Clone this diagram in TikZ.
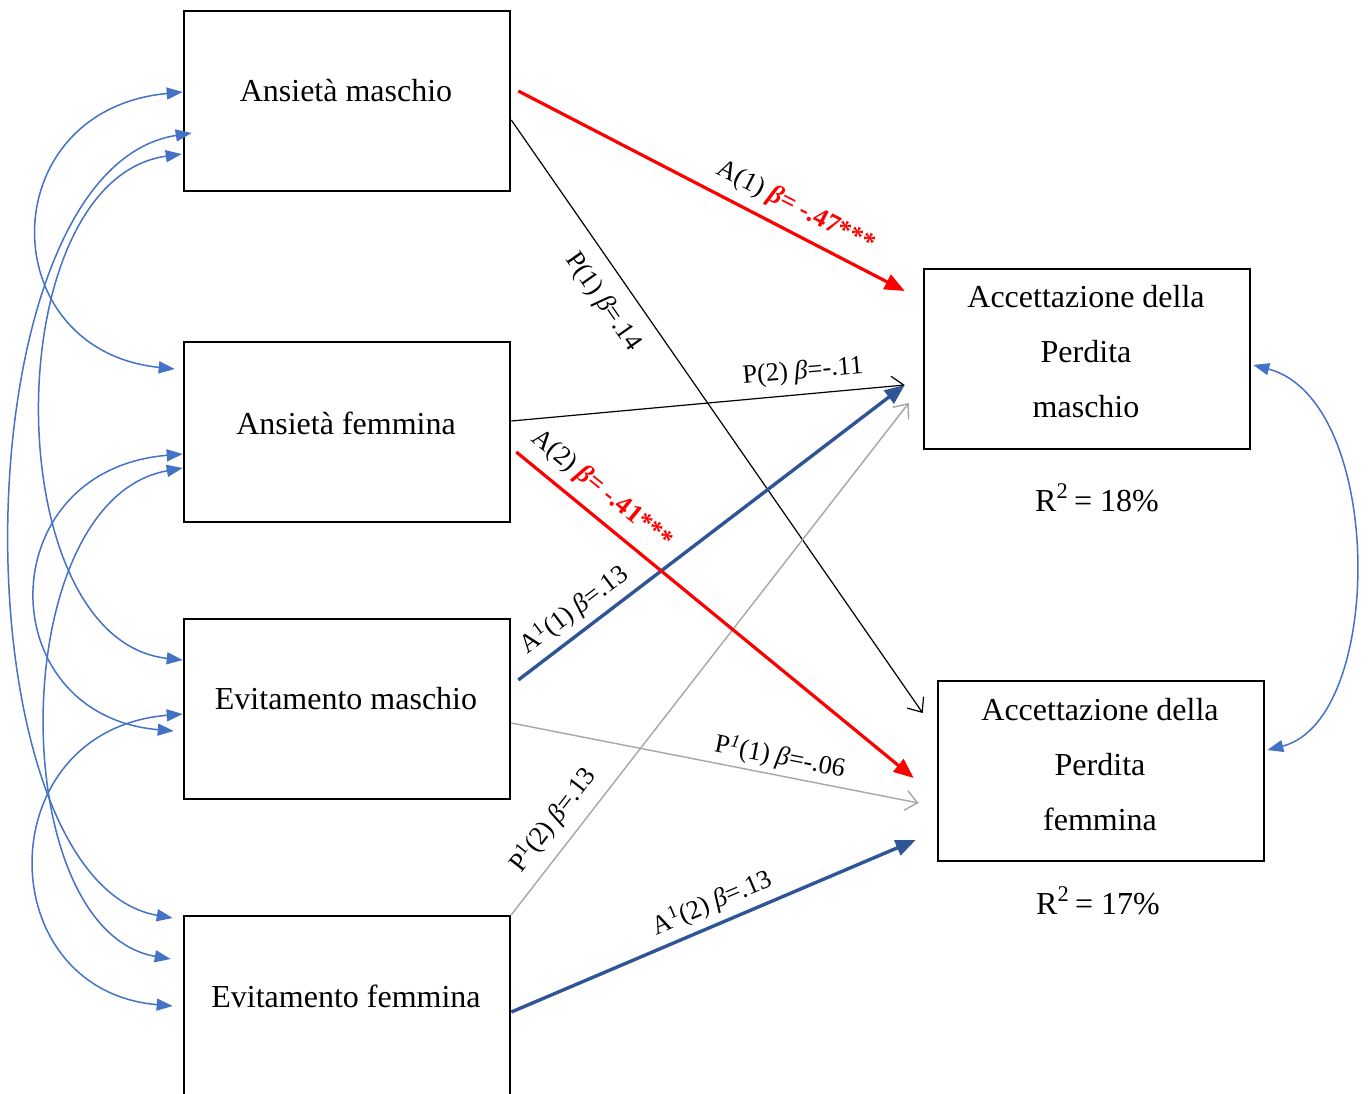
\documentclass[tikz,border=0pt]{standalone}
\usepackage{fontspec}
\setmainfont{Liberation Serif}
\usetikzlibrary{arrows.meta,calc}
\definecolor{cblue}{HTML}{4472C4}
\definecolor{dblue}{HTML}{2F5597}
\definecolor{cgray}{HTML}{A6A6A6}
\begin{document}
\begin{tikzpicture}[x=0.5pt,y=-0.5pt,
  box/.style={draw, line width=1.3pt, minimum width=163pt, minimum height=90pt, inner sep=0pt},
  boxtxt/.style={font=\fontsize{16}{27.5}\selectfont, align=center, inner sep=0pt},
  lbl/.style={font=\fontsize{13.2}{15}\selectfont, inner sep=0pt},
  cov/.style={cblue, line width=0.75pt, {Triangle[length=8pt,width=6pt]}-{Triangle[length=8pt,width=6pt]}},
  redarr/.style={red, line width=1.6pt, -{Triangle[length=10pt,width=8pt]}},
  bluearr/.style={dblue, line width=1.7pt, -{Triangle[length=10pt,width=8pt]}},
  blackarr/.style={black, line width=0.6pt, -{Straight Barb[length=6pt,width=10pt]}},
  grayarr/.style={cgray, line width=0.7pt, -{Straight Barb[length=6pt,width=10pt]}},
]
\useasboundingbox (0,0) rectangle (1368,1093);
\fill[white] (0,0) rectangle (1368,1093);

% boxes
\node[box] (am) at (347,101) {};
\node[box] (af) at (347,432) {};
\node[box] (em) at (347,709) {};
\node[box] (ef) at (347,1006) {};
\node[box] (apm) at (1087,359) {};
\node[box] (apf) at (1101,771) {};

% box texts
\node[boxtxt] (tam) at (346,91) {Ansietà maschio};
\node[boxtxt] (taf) at (346,423) {Ansietà femmina};
\node[boxtxt] (tem) at (346,699) {Evitamento maschio};
\node[boxtxt] (tef) at (346,996) {Evitamento femmina};
\node[boxtxt] (tapm) at (1086,352) {Accettazione della\\Perdita\\maschio};
\node[boxtxt] (tapf) at (1100,765) {Accettazione della\\Perdita\\femmina};
\node[boxtxt] (r1) at (1097,498) {R\textsuperscript{2}\,= 18\%};
\node[boxtxt] (r2) at (1098,901) {R\textsuperscript{2}\,= 17\%};

% paths
\draw[blackarr] ($(am.east)+(0,19)$) -- ($(apf.west)+(-14,-58)$);
\draw[blackarr] ($(af.east)+(0,-11)$) -- ($(apm.west)+(-18,26)$);
\draw[grayarr] ($(em.east)+(0,14)$) -- ($(apf.west)+(-18,32)$);
\draw[grayarr] (ef.north east) -- ($(apm.west)+(-14,44)$);
\draw[redarr] ($(am.east)+(7,-10)$) -- ($(apm.west)+(-18,-68)$);
\draw[bluearr] ($(em.east)+(7,-29)$) -- ($(apm.west)+(-18,26)$);
\draw[redarr] ($(af.east)+(5,20)$) -- ($(apf.west)+(-23,7)$);
\draw[bluearr] ($(ef.east)+(0,6)$) -- ($(apf.west)+(-21,69)$);

% labels
\node[lbl, rotate=-27] (l1) at (796,207) {A(1) \textcolor{red}{\textbf{\textit{β}= -.47***}}};
\node[lbl, rotate=-55] (l2) at (603,302) {P(1) \textit{β}=.14};
\node[lbl, rotate=5] (l3) at (803,372) {P(2) \textit{β}=-.11};
\node[lbl, rotate=-39] (l4) at (602,490) {A(2) \textcolor{red}{\textbf{\textit{β}= -.41***}}};
\node[lbl, rotate=37] (l5) at (574,610) {A\textsuperscript{1}(1) \textit{β}=.13};
\node[lbl, rotate=-11] (l6) at (780,757) {P\textsuperscript{\textit{1}}(1) \textit{β}=-.06};
\node[lbl, rotate=52] (l7) at (553,820) {P\textsuperscript{1}(2) \textit{β}=.13};
\node[lbl, rotate=23] (l8) at (712,903) {A\textsuperscript{1}(2) \textit{β}=.13};

% covariances
\draw[cov] ($(am.west)+(0,-9)$) .. controls +(-191,18) and +(-183,-19) .. ($(af.west)+(-8,-63)$);
\draw[cov] ($(af.west)+(0,22)$) .. controls +(-193,16) and +(-184,-16) .. ($(em.west)+(-9,22)$);
\draw[cov] ($(em.west)+(0,5)$) .. controls +(-194,16) and +(-184,-16) .. ($(ef.west)+(-10,0)$);
\draw[cov] ($(am.west)+(-1,53)$) .. controls +(-186,26) and +(-187,-20) .. ($(em.west)+(0,-49)$);
\draw[cov] ($(am.west)+(9,32)$) .. controls +(-237,37) and +(-218,-38) .. ($(ef.west)+(-10,-88)$);
\draw[cov] ($(af.west)+(0,36)$) .. controls +(-179,32) and +(-167,-29) .. ($(ef.west)+(-12,-47)$);
\draw[cov] ($(apm.east)+(2,6)$) .. controls +(132,35) and +(118,-30) .. ($(apf.east)+(2,-21)$);
\end{tikzpicture}
\end{document}
